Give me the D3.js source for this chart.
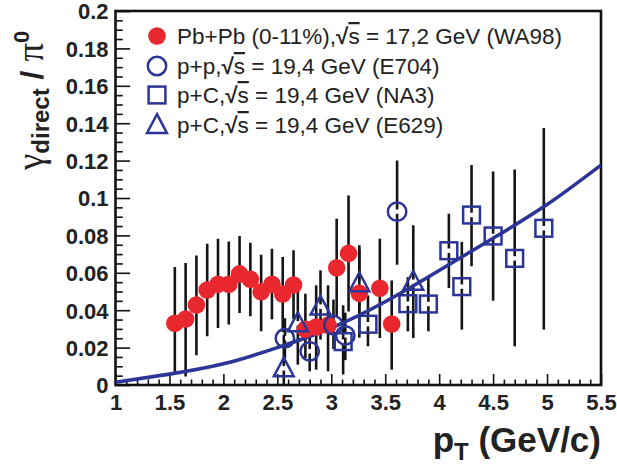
<!DOCTYPE html>
<html>
<head>
<meta charset="utf-8">
<script src="https://cdn.jsdelivr.net/npm/d3@7"></script>
<style>
  html, body { margin: 0; padding: 0; background: #fff; }
  svg { display: block; }
  text { font-family: "Liberation Sans", Arial, Helvetica, sans-serif; }
</style>
</head>
<body>
<svg id="chart" width="617" height="464"></svg>
<script>
// Direct photon to pi0 ratio vs transverse momentum
// Each point: [pT, ratio, errLow, errHigh]
const wa98 = [
  [1.55, 0.0330, 0.0064, 0.0624],
  [1.65, 0.0353, 0.0053, 0.0645],
  [1.75, 0.0428, 0.0166, 0.0686],
  [1.85, 0.0508, 0.0267, 0.0749],
  [1.95, 0.0539, 0.0312, 0.0775],
  [2.05, 0.0539, 0.0330, 0.0761],
  [2.15, 0.0594, 0.0392, 0.0790],
  [2.25, 0.0565, 0.0374, 0.0754],
  [2.35, 0.0499, 0.0294, 0.0690],
  [2.45, 0.0539, 0.0358, 0.0722],
  [2.55, 0.0487, 0.0290, 0.0678],
  [2.65, 0.0535, 0.0360, 0.0713],
  [2.76, 0.0298, 0.0151, 0.0481],
  [2.86, 0.0310, 0.0089, 0.0526],
  [2.97, 0.0320, 0.0080, 0.0526],
  [3.05, 0.0627, 0.0370, 0.0882],
  [3.16, 0.0704, 0.0400, 0.1007],
  [3.26, 0.0490, 0.0260, 0.0720],
  [3.45, 0.0517, 0.0258, 0.0775],
  [3.56, 0.0326, 0.0089, 0.0552]
];
const e704 = [
  [2.57, 0.0250, 0.0150, 0.0350],
  [2.80, 0.0180, 0.0080, 0.0300],
  [3.02, 0.0320, 0.0200, 0.0450],
  [3.13, 0.0265, 0.0140, 0.0380],
  [3.61, 0.0927, 0.0650, 0.1194]
];
const na3 = [
  [3.11, 0.0232, 0.0063, 0.0419],
  [3.34, 0.0325, 0.0214, 0.0472],
  [3.71, 0.0435, 0.0294, 0.0570],
  [3.90, 0.0433, 0.0294, 0.0570],
  [4.09, 0.0718, 0.0526, 0.0909],
  [4.21, 0.0526, 0.0303, 0.0758],
  [4.30, 0.0909, 0.0642, 0.1170],
  [4.50, 0.0797, 0.0458, 0.1135],
  [4.70, 0.0677, 0.0214, 0.1146],
  [4.97, 0.0838, 0.0303, 0.1367]
];
const e629 = [
  [2.56, 0.0089, -0.0050, 0.0260],
  [2.69, 0.0330, 0.0116, 0.0499],
  [2.90, 0.0419, 0.0250, 0.0606],
  [3.26, 0.0544, 0.0350, 0.0740],
  [3.76, 0.0552, 0.0258, 0.0847]
];
// Theory curve, sampled [pT, ratio]
const theory = [
  [1.0, 0.0015], [1.5, 0.0058], [2.0, 0.0113], [2.5, 0.0200],
  [3.0, 0.0305], [3.5, 0.0445], [4.0, 0.0612], [4.5, 0.0785],
  [5.0, 0.0965], [5.5, 0.1176]
];
const xTickValues = [1, 1.5, 2, 2.5, 3, 3.5, 4, 4.5, 5, 5.5];
const xTickLabels = ["1", "1.5", "2", "2.5", "3", "3.5", "4", "4.5", "5", "5.5"];
const yTickValues = [0, 0.02, 0.04, 0.06, 0.08, 0.1, 0.12, 0.14, 0.16, 0.18, 0.2];
const yTickLabels = ["0", "0.02", "0.04", "0.06", "0.08", "0.1", "0.12", "0.14", "0.16", "0.18", "0.2"];
const legendLabels = [
  ["Pb+Pb (0-11%),", "= 17,2 GeV (WA98)"],
  ["p+p,", "= 19,4 GeV (E704)"],
  ["p+C,", "= 19,4 GeV (NA3)"],
  ["p+C,", "= 19,4 GeV (E629)"]
];

const RED = "#e8282e";
const BLUE = "#2b3595";

const svg = d3.select("#chart");
const pLeft = 115.5, pRight = 601, pTop = 11, pBottom = 385;

const x = d3.scaleLinear().domain([1, 5.5]).range([pLeft, pRight]);
const y = d3.scaleLinear().domain([0, 0.2]).range([pBottom, pTop]);

svg.append("defs").append("clipPath").attr("id", "plotclip")
  .append("rect").attr("x", pLeft).attr("y", pTop)
  .attr("width", pRight - pLeft).attr("height", pBottom - pTop);

// Minor ticks
const xMinor = d3.range(10, 56).map(d => d / 10).filter(v => !xTickValues.some(t => Math.abs(t - v) < 1e-9));
const yMinor = d3.range(0, 41).map(d => d * 0.005).filter(v => !yTickValues.some(t => Math.abs(t - v) < 1e-9));

svg.append("g").attr("transform", `translate(0,${pBottom})`)
  .call(d3.axisBottom(x).tickValues(xMinor).tickSize(-5.5).tickFormat(""))
  .call(g => g.select(".domain").remove())
  .call(g => g.selectAll("line").attr("stroke", "#111").attr("stroke-width", 1.6));

svg.append("g").attr("transform", `translate(0,${pBottom})`)
  .call(d3.axisBottom(x).tickValues(xTickValues).tickSize(-11)
    .tickFormat((d, i) => xTickLabels[i]))
  .call(g => g.select(".domain").remove())
  .call(g => g.selectAll("line").attr("stroke", "#111").attr("stroke-width", 1.6))
  .call(g => g.selectAll("text").attr("font-size", 22).attr("font-weight", "bold")
    .attr("fill", "#222").attr("dy", "0.71em").attr("y", 9));

svg.append("g").attr("transform", `translate(${pLeft},0)`)
  .call(d3.axisLeft(y).tickValues(yMinor).tickSize(-7.3).tickFormat(""))
  .call(g => g.select(".domain").remove())
  .call(g => g.selectAll("line").attr("stroke", "#111").attr("stroke-width", 1.6));

svg.append("g").attr("transform", `translate(${pLeft},0)`)
  .call(d3.axisLeft(y).tickValues(yTickValues).tickSize(-14.6)
    .tickFormat((d, i) => yTickLabels[i]))
  .call(g => g.select(".domain").remove())
  .call(g => g.selectAll("line").attr("stroke", "#111").attr("stroke-width", 1.6))
  .call(g => g.selectAll("text").attr("font-size", 22).attr("font-weight", "bold")
    .attr("fill", "#222").attr("x", -7).attr("dy", "0.36em"));

// Frame
svg.append("rect").attr("x", pLeft).attr("y", pTop)
  .attr("width", pRight - pLeft).attr("height", pBottom - pTop)
  .attr("fill", "none").attr("stroke", "#111").attr("stroke-width", 2.6);

const plot = svg.append("g").attr("clip-path", "url(#plotclip)");

// Error bars, leaving a small gap around each marker centre
const gap = 3.5;
function errorBars(data) {
  const g = plot.append("g").attr("stroke", "#151515").attr("stroke-width", 2.6)
    .attr("stroke-linecap", "square");
  data.forEach(d => {
    const cx = x(d[0]), cy = y(d[1]);
    g.append("line").attr("x1", cx).attr("x2", cx).attr("y1", y(d[3])).attr("y2", cy - gap);
    g.append("line").attr("x1", cx).attr("x2", cx).attr("y1", cy + gap).attr("y2", y(d[2]));
  });
}
errorBars(wa98);
errorBars(e704);
errorBars(na3);
errorBars(e629);

// Theory curve
plot.append("path").datum(theory)
  .attr("d", d3.line().x(d => x(d[0])).y(d => y(d[1])).curve(d3.curveNatural))
  .attr("fill", "none").attr("stroke", BLUE).attr("stroke-width", 3.6);

// Markers
const triPath = (s) => `M0,${-s * 0.6}L${s * 0.55},${s * 0.44}L${-s * 0.55},${s * 0.44}Z`;
const TRI = 18;

plot.append("g").selectAll("circle").data(wa98).join("circle")
  .attr("cx", d => x(d[0])).attr("cy", d => y(d[1])).attr("r", 8.8).attr("fill", RED);

plot.append("g").selectAll("circle").data(e704).join("circle")
  .attr("cx", d => x(d[0])).attr("cy", d => y(d[1])).attr("r", 9.2)
  .attr("fill", "none").attr("stroke", BLUE).attr("stroke-width", 2.5);

plot.append("g").selectAll("rect").data(na3).join("rect")
  .attr("x", d => x(d[0]) - 8.4).attr("y", d => y(d[1]) - 8.4)
  .attr("width", 16.8).attr("height", 16.8)
  .attr("fill", "none").attr("stroke", BLUE).attr("stroke-width", 2.5);

plot.append("g").selectAll("path").data(e629).join("path")
  .attr("transform", d => `translate(${x(d[0])},${y(d[1])})`)
  .attr("d", triPath(TRI))
  .attr("fill", "none").attr("stroke", BLUE).attr("stroke-width", 2.5);

// Legend
const legX = 157, legRows = [36, 66, 95, 125];
const leg = svg.append("g");
leg.append("circle").attr("cx", legX).attr("cy", legRows[0]).attr("r", 8.8).attr("fill", RED);
leg.append("circle").attr("cx", legX).attr("cy", legRows[1]).attr("r", 9.2)
  .attr("fill", "none").attr("stroke", BLUE).attr("stroke-width", 2.5);
leg.append("rect").attr("x", legX - 8.4).attr("y", legRows[2] - 8.4).attr("width", 16.8).attr("height", 16.8)
  .attr("fill", "none").attr("stroke", BLUE).attr("stroke-width", 2.5);
leg.append("path").attr("transform", `translate(${legX},${legRows[3]})`).attr("d", triPath(TRI))
  .attr("fill", "none").attr("stroke", BLUE).attr("stroke-width", 2.5);

legendLabels.forEach((lab, i) => {
  const t = leg.append("text").attr("x", 177).attr("y", legRows[i] + 8)
    .attr("font-size", 22.5).attr("fill", "#222");
  t.append("tspan").text(lab[0]);
  t.append("tspan").attr("font-weight", "bold").text("√");
  t.append("tspan").attr("text-decoration", "overline").text("s");
  t.append("tspan").text(" " + lab[1]);
});

// Axis titles
const xt = svg.append("text").attr("x", pRight).attr("y", 452).attr("text-anchor", "end")
  .attr("font-weight", "bold").attr("fill", "#222");
xt.append("tspan").attr("font-size", 35).text("p");
xt.append("tspan").attr("font-size", 24).attr("dy", 8).text("T");
xt.append("tspan").attr("font-size", 35).attr("dy", -8).text(" (GeV/c)");

const yt = svg.append("text").attr("transform", "translate(43,170) rotate(-90)")
  .attr("fill", "#222");
yt.append("tspan").attr("font-size", 37).attr("font-family", "Liberation Serif, serif").text("γ");
yt.append("tspan").attr("font-size", 24).attr("font-weight", "bold").attr("dy", 6).text("direct");
yt.append("tspan").attr("font-size", 32).attr("font-weight", "bold").attr("dy", -6).text(" / ");
yt.append("tspan").attr("font-size", 37).attr("font-family", "Liberation Serif, serif").text("π");
yt.append("tspan").attr("font-size", 22).attr("font-weight", "bold").attr("dy", -14).text("0");
</script>
</body>
</html>
